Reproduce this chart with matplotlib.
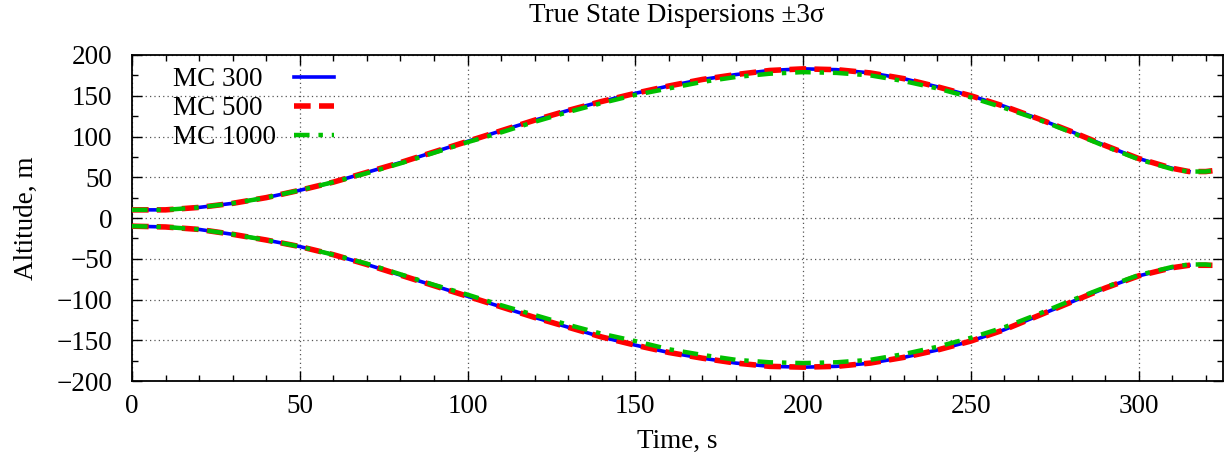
import matplotlib
matplotlib.use("Agg")
import matplotlib.pyplot as plt
from matplotlib.ticker import MultipleLocator

plt.rcParams['font.family'] = ['Liberation Serif', 'DejaVu Serif']
plt.rcParams['mathtext.fontset'] = 'stix'

# time grid (s)
t300 = [0, 10, 20, 30, 40, 50, 60, 70, 80, 90, 100, 110, 120, 130, 140, 150,
        160, 170, 180, 190, 200, 210, 220, 230, 240, 250, 260, 270, 280, 290,
        300, 310, 315]
t_long = t300 + [320, 322]

# upper (+3 sigma) bounds, m
up300 = [10, 10, 13, 18, 25, 34, 44, 56, 68, 81, 94, 107, 120, 132, 143, 153,
         162, 170, 176, 181, 183, 182, 178, 171, 161, 150, 137, 122, 106, 89,
         73, 61, 57]
up500 = up300 + [57, 58]
up1000 = [10, 10, 13, 18, 25, 34, 44, 55, 67, 80, 93, 105, 118, 130, 141, 151,
          159, 167, 173, 177, 179, 178, 175, 168, 159, 148, 135, 121, 105, 88,
          72, 60, 57, 57, 58]

# lower (-3 sigma) bounds, m
lo300 = [-10, -11, -14, -20, -27, -35, -45, -57, -70, -83, -96, -109, -122,
         -134, -146, -156, -165, -172, -178, -182, -183, -182, -178, -171,
         -162, -151, -137, -120, -103, -86, -71, -61, -58]
lo500 = lo300 + [-58, -58]
lo1000 = [-10, -11, -14, -20, -27, -35, -45, -56, -69, -82, -94, -107, -119,
          -131, -142, -151, -161, -168, -174, -177, -178, -177, -174, -167,
          -158, -147, -134, -118, -101, -85, -70, -60, -57, -57, -58]

# padded so the labels line up on the left (digit = two spaces wide)
labels = ['MC 300  ', 'MC 500  ', 'MC 1000']

fs = 19.5

fig = plt.figure(figsize=(12.24, 4.61), dpi=100)
ax = fig.add_axes([0.1078, 0.1735, 0.891, 0.7072])

ax.plot(t300, up300, color='#0000ff', lw=2.6, label=labels[0], zorder=3)
ax.plot(t300, lo300, color='#0000ff', lw=2.6, zorder=3)
ax.plot(t_long, up500, color='#ff0000', lw=4, dashes=(3, 1.5), label=labels[1], zorder=4)
ax.plot(t_long, lo500, color='#ff0000', lw=4, dashes=(3, 1.5), zorder=4)
ax.plot(t_long, up1000, color='#00c000', lw=3.2, dashes=(3.5, 2, 1, 2), label=labels[2], zorder=5)
ax.plot(t_long, lo1000, color='#00c000', lw=3.2, dashes=(3.5, 2, 1, 2), zorder=5)

ax.set_xlim(0, 325)
ax.set_ylim(-200, 200)
ax.xaxis.set_major_locator(MultipleLocator(50))
ax.xaxis.set_minor_locator(MultipleLocator(10))
ax.yaxis.set_major_locator(MultipleLocator(50))
ax.yaxis.set_minor_locator(MultipleLocator(25))
ax.tick_params(which='both', direction='in', top=True, right=True,
               labelsize=fs, width=1)
ax.tick_params(which='major', length=7)
ax.tick_params(which='minor', length=4)
ax.tick_params(axis='x', which='major', pad=9.5)
ax.tick_params(axis='y', which='major', pad=14)
ax.grid(True, which='major', color='#555555', linestyle=(0, (1, 2.5)), lw=0.9)
for s in ax.spines.values():
    s.set_linewidth(1.3)

ax.set_xlabel('Time, s', fontsize=fs, labelpad=7)
ax.set_ylabel('Altitude, m', fontsize=fs, labelpad=13)
ax.set_title('True State Dispersions \u00b13\u03c3', fontsize=fs, pad=24)

ax.legend(loc='upper left', frameon=False, markerfirst=False, fontsize=fs,
          handlelength=1.48, handletextpad=0.65, borderaxespad=0.0,
          labelspacing=0.14, bbox_to_anchor=(0.028, 0.995))

fig.savefig('out.png', dpi=100)
